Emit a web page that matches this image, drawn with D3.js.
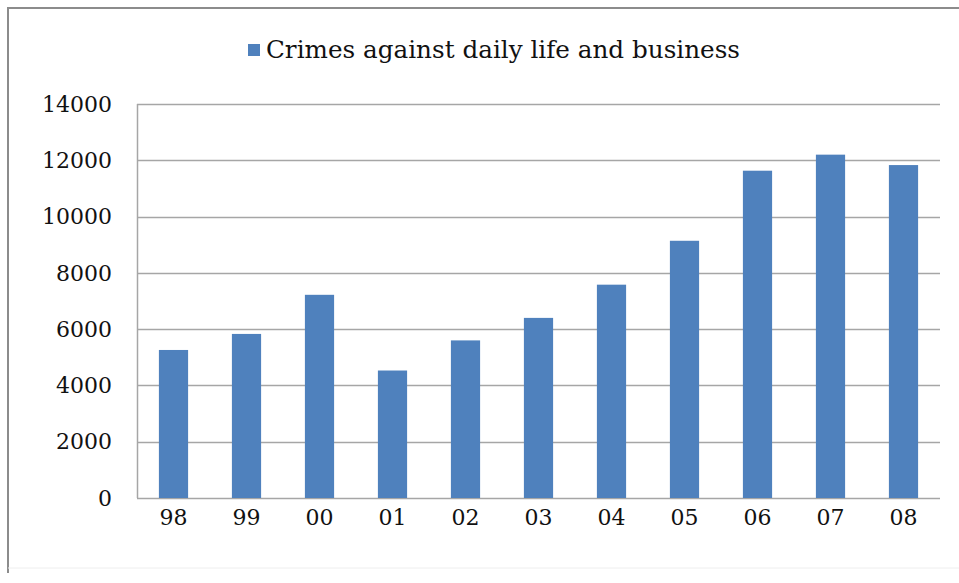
<!DOCTYPE html>
<html>
<head>
<meta charset="utf-8">
<script src="https://cdn.jsdelivr.net/npm/d3@7"></script>
<style>
  body { margin: 0; background: #fff; }
  svg { display: block; }
</style>
</head>
<body>
<svg width="959" height="583"></svg>
<script>
const width = 959, height = 583;
const marginTop = 104;
const marginRight = 19;
const marginBottom = 85;
const marginLeft = 137;
const svg = d3.select("svg");

// data
const years = ["98", "99", "00", "01", "02", "03", "04", "05", "06", "07", "08"];
const crimes = [5260, 5830, 7220, 4530, 5600, 6400, 7580, 9140, 11630, 12200, 11830];
const yTicks = [0, 2000, 4000, 6000, 8000, 10000, 12000, 14000];
const seriesName = "Crimes against daily life and business";

const font = "'DejaVu Serif', serif";

// outer frame (only left/top edges show in the picture)
svg.append("path")
    .attr("d", `M8,${height - 10} V8 H${width}`)
    .attr("fill", "none")
    .attr("stroke", "#8c8c8c")
    .attr("stroke-width", 2);
svg.append("line")
    .attr("x1", 8).attr("x2", width)
    .attr("y1", height - 15).attr("y2", height - 15)
    .attr("stroke", "#eeeeee")
    .attr("stroke-width", 1);

const x = d3.scaleBand()
    .domain(years)
    .range([marginLeft, width - marginRight])
    .paddingInner(0.6)
    .paddingOuter(0.3);

const y = d3.scaleLinear()
    .domain([0, 14000])
    .range([height - marginBottom, marginTop]);

// gridlines
svg.append("g")
    .selectAll("line")
    .data(yTicks)
    .join("line")
    .attr("x1", marginLeft)
    .attr("x2", width - marginRight)
    .attr("y1", d => Math.round(y(d)) + 0.5)
    .attr("y2", d => Math.round(y(d)) + 0.5)
    .attr("stroke", "#a6a6a6")
    .attr("stroke-width", 1.5);

// left axis line
svg.append("line")
    .attr("x1", marginLeft + 0.5).attr("x2", marginLeft + 0.5)
    .attr("y1", y(14000)).attr("y2", y(0))
    .attr("stroke", "#a6a6a6")
    .attr("stroke-width", 1.5);

// y labels
svg.append("g")
    .selectAll("text")
    .data(yTicks)
    .join("text")
    .attr("x", 112)
    .attr("y", d => y(d))
    .attr("dy", "0.35em")
    .attr("text-anchor", "end")
    .style("font-family", font)
    .style("font-size", "22px")
    .style("fill", "#111")
    .text(d => d);

// bars
svg.append("g")
    .selectAll("rect")
    .data(crimes)
    .join("rect")
    .attr("x", (d, i) => x(years[i]))
    .attr("y", d => y(d))
    .attr("width", x.bandwidth())
    .attr("height", d => y(0) - y(d))
    .attr("fill", "#4f81bd");

// x labels
svg.append("g")
    .selectAll("text")
    .data(years)
    .join("text")
    .attr("x", d => x(d) + x.bandwidth() / 2)
    .attr("y", y(0) + 19)
    .attr("dy", "0.35em")
    .attr("text-anchor", "middle")
    .style("font-family", font)
    .style("font-size", "22px")
    .style("fill", "#111")
    .text(d => d);

// legend
const legend = svg.append("g");
legend.append("rect")
    .attr("x", 248)
    .attr("y", 44)
    .attr("width", 12)
    .attr("height", 12)
    .attr("fill", "#4f81bd");
legend.append("text")
    .attr("x", 266)
    .attr("y", 50)
    .attr("dy", "0.35em")
    .style("font-family", font)
    .style("font-size", "24px")
    .style("fill", "#111")
    .attr("textLength", 474)
    .attr("lengthAdjust", "spacingAndGlyphs")
    .text(seriesName);
</script>
</body>
</html>
